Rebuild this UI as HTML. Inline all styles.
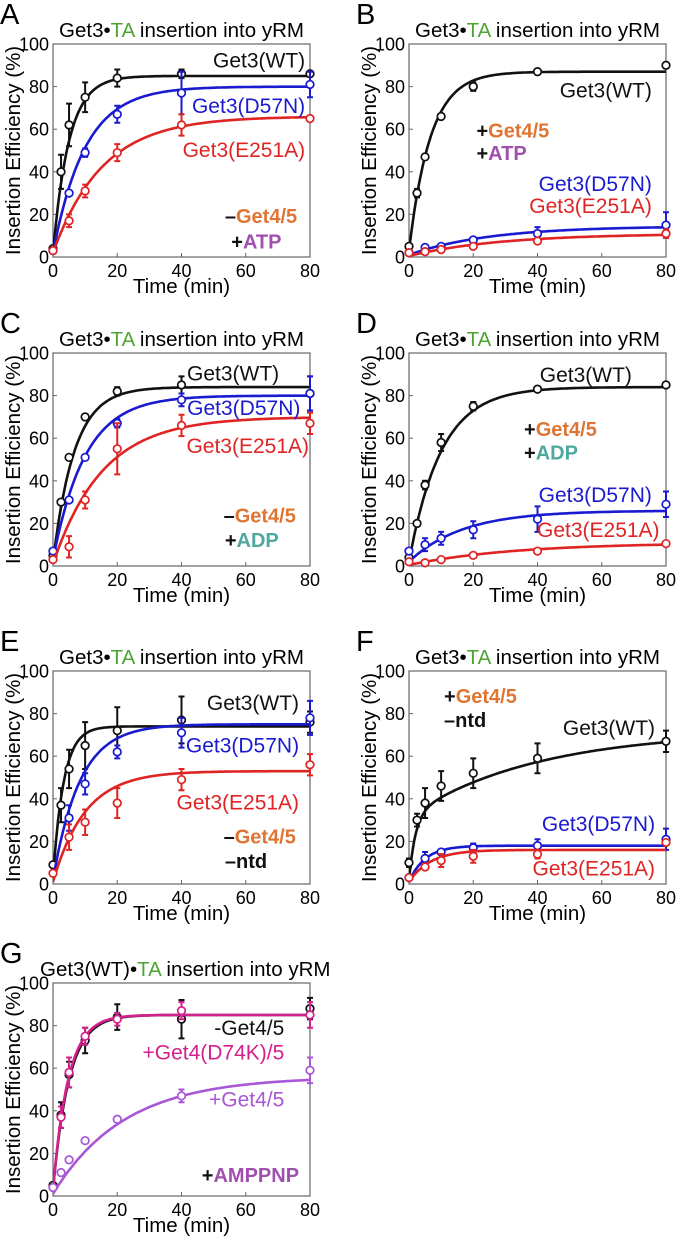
<!DOCTYPE html>
<html><head><meta charset="utf-8">
<style>
html,body{margin:0;padding:0;background:#fff;}
svg{display:block;font-family:"Liberation Sans",Arial,sans-serif;}
</style></head>
<body>
<svg id="fig" width="677" height="1242" viewBox="0 0 677 1242" xmlns="http://www.w3.org/2000/svg"></svg>
<script>
// ---- data ----
const times=[0,2.5,5,10,20,40,80];
const xTicks=[0,20,40,60,80];
const yTicks=[0,20,40,60,80,100];
// Panel A (-Get4/5 +ATP)
const aWT=[4,40,62,75,84,86,86], aWTerr=[0,8,10,7,4,2,1], aWTfit=[85,0.2,2];
const aD57N=[3,null,30,49,67,77,81], aD57Nerr=[0,0,1,2,4,10,6], aD57Nfit=[80,0.1,2];
const aE251A=[3,null,17,31,49,62,65], aE251Aerr=[0,0,3,3,4,5,1], aE251Afit=[66,0.065,2];
// Panel B (+Get4/5 +ATP)
const bWT=[5,30,47,66,80,87,90], bWTerr=[1,2,1,1,2,1,1], bWTfit=[87,0.15,3];
const bD57N=[2,null,4.5,5,8,11,15], bD57Nerr=[0,0,1,1,1,3,6], bD57Nfit=[14.5,0.04,1];
const bE251A=[2,null,2.5,3.5,5,7.5,11], bE251Aerr=[0,0,1,1,1,1,2], bE251Afit=[11,0.035,0.5];
// Panel C (-Get4/5 +ADP)
const cWT=[5,30,51,70,82,85,81], cWTerr=[1,1,1,1,2,4,8], cWTfit=[84,0.15,2];
const cD57N=[7,null,31,51,67,78,81], cD57Nerr=[1,0,1,1,2,3,8], cD57Nfit=[80,0.1,3];
const cE251A=[3,null,9,31,55,66,67], cE251Aerr=[1,0,5,4,12,5,5], cE251Afit=[70,0.065,1];
// Panel D (+Get4/5 +ADP)
const dWT=[4,20,38,58,75,83,85], dWTerr=[1,1,2,4,2,1,1], dWTfit=[84,0.1,2];
const dD57N=[7,null,10,13,17,22,29], dD57Nerr=[1,0,3,3,4,6,6], dD57Nfit=[26,0.06,2];
const dE251A=[2,null,1.5,3,5,7,10.5], dE251Aerr=[0,0,0.5,0.5,0.5,0.5,1], dE251Afit=[11,0.03,0.5];
// Panel E (-Get4/5 -ntd)
const eWT=[9,37,54,65,72,77,76], eWTerr=[1,8,9,11,11,11,5], eWTfit=[74,0.3,3];
const eD57N=[null,null,31,47,62,71,78], eD57Nerr=[0,0,6,5,3,7,8], eD57Nfit=[75,0.12,2];
const eE251A=[5,null,22,29,38,49,56], eE251Aerr=[1,0,6,6,7,5,5], eE251Afit=[53,0.1,1];
// Panel F (+Get4/5 -ntd)
const fWT=[10,30,38,46,52,59,67], fWTerr=[2,3,7,7,7,7,5], fWTfit=[32,0.5,2,40,0.025];
const fD57N=[3,null,12,15,17,18,21], fD57Nerr=[1,0,3,1,2,3,5], fD57Nfit=[18,0.2,1];
const fE251A=[3,null,8,11,13,14,19.5], fE251Aerr=[1,0,1,3,3,2,1], fE251Afit=[16,0.15,1];
// Panel G (Get3(WT), +AMPPNP)
const gNo=[5,38,57,73,84,83,88], gNoerr=[1,6,6,6,6,9,5], gNofit=[85,0.2,3];
const gD74K=[4,37,58,75,83,87,85], gD74Kerr=[1,5,7,4,3,4,6], gD74Kfit=[85,0.21,3];
const gG45=[4,11,17,26,36,47,59], gG45err=[0,1,1,1,1,3,6], gG45fit=[56,0.045,1];

const BLACK='#111', BLUE='#1a1ad0', RED='#e02424', ORANGE='#e07533', PURPLE='#a04fae', TEAL='#4fa8a0', GREEN='#4ea433', MAG='#d4208c', VIO='#a857d6';
const NS='http://www.w3.org/2000/svg';
const svg=document.getElementById('fig');
function mk(tag,attrs,parent){const e=document.createElementNS(NS,tag);for(const k in attrs)e.setAttribute(k,attrs[k]);(parent||svg).appendChild(e);return e;}

function panel(p){
  const g=mk('g',{});
  
  
  const x0=p.ox, x1=p.ox+257, yTop=p.oy, yBot=p.oy+213;
  const sx=t=>x0+t/80*(x1-x0);
  const sy=v=>yBot-v/100*(yBot-yTop);
  const L=mk('text',{x:p.ox-53,y:p.oy-20,'font-size':29},g);L.textContent=p.id;
  
  
  const T=mk('text',{x:p.tx||(x0+(x1-x0)/2),y:p.oy-7,'font-size':20.5,'text-anchor':p.tx?'start':'middle'},g);
  
  
  const s1=mk('tspan',{},T);s1.textContent=p.pre+'\u2022';
  const s2=mk('tspan',{fill:GREEN},T);s2.textContent='TA';
  const s3=mk('tspan',{},T);s3.textContent=' insertion into yRM';
  const fr=mk('rect',{x:x0,y:yTop,width:x1-x0,height:yBot-yTop,fill:'none',stroke:'#666','stroke-width':1.2},g);
  
  
  yTicks.forEach(v=>{
    mk('line',{x1:x0,x2:x0+4,y1:sy(v),y2:sy(v),stroke:'#666'},g);
    const t=mk('text',{x:x0-4,y:sy(v)+6.5,'font-size':18,'text-anchor':'end'},g);t.textContent=v;
    
    
  });
  xTicks.forEach(v=>{
    mk('line',{x1:sx(v),x2:sx(v),y1:yBot,y2:yBot-4,stroke:'#666'},g);
    const t=mk('text',{x:sx(v),y:yBot+20,'font-size':18,'text-anchor':'middle'},g);t.textContent=v;
    
    
  });
  const xt=mk('text',{x:(x0+x1)/2,y:yBot+36,'font-size':20.5,'text-anchor':'middle'},g);xt.textContent='Time (min)';
  
  
  const cy=(yTop+yBot)/2, cx=p.ox-33;
  const yt=mk('text',{x:cx,y:cy,'font-size':20.5,'text-anchor':'middle',transform:'rotate(-90 '+cx+' '+cy+')'},g);yt.textContent='Insertion Efficiency (%)';
  
  
  const cid='clip'+p.id;
  const cp=mk('clipPath',{id:cid},g);mk('rect',{x:x0,y:yTop,width:x1-x0,height:yBot-yTop},cp);
  p.series.forEach(s=>{
    const f=s.fit;
    const fn=t=>f[2]+(f[0]-f[2])*(1-Math.exp(-f[1]*t))+(f.length>3?f[3]*(1-Math.exp(-f[4]*t)):0);
    let d='';
    for(let i=0;i<=200;i++){const t=i*80/200;d+=(i?'L':'M')+sx(t).toFixed(1)+' '+sy(fn(t)).toFixed(1);}
    const c=mk('path',{d:d,fill:'none',stroke:s.color,'stroke-width':2.6,'clip-path':'url(#'+cid+')'},g);
    
    
    s.vals.forEach((v,i)=>{
      if(v==null)return;
      const e=s.err[i], X=sx(times[i]);
      if(e>0.8){
        const eb=mk('path',{d:`M${X} ${sy(v-e)}L${X} ${sy(v+e)}M${X-3} ${sy(v-e)}L${X+3} ${sy(v-e)}M${X-3} ${sy(v+e)}L${X+3} ${sy(v+e)}`,stroke:s.color,'stroke-width':2,fill:'none'},g);
        
        
      }
      const m=mk('circle',{cx:X,cy:sy(v),r:3.8,fill:'#fff',stroke:s.color,'stroke-width':1.7},g);
      
      
    });
  });
  p.labels.forEach(l=>{
    const t=mk('text',{x:sx(l.x),y:sy(l.y),'font-size':l.b?20:21,'text-anchor':l.a||'end',fill:l.c||BLACK,'font-weight':l.b?'bold':'normal'},g);
    
    
    if(l.parts){l.parts.forEach(pt=>{const s=mk('tspan',{fill:pt[1]},t);s.textContent=pt[0];});}
    else t.textContent=l.t;
  });
}
const lbl=(x,y,t,c,n,a)=>({x,y,t,c,n,a});
const cond=(x,y,sign,word,color,n,a)=>({x,y,b:true,parts:[[sign,BLACK],[word,color]],n,a});

panel({id:'A',ox:53,oy:44,pre:'Get3',series:[
 {name:'wt',color:BLACK,vals:aWT,err:aWTerr,fit:aWTfit},
 {name:'d57n',color:BLUE,vals:aD57N,err:aD57Nerr,fit:aD57Nfit},
 {name:'e251a',color:RED,vals:aE251A,err:aE251Aerr,fit:aE251Afit}],
 labels:[lbl(78.5,89,'Get3(WT)',BLACK,'wt-label'),lbl(78.5,67.5,'Get3(D57N)',BLUE,'d57n-label'),lbl(78.5,47,'Get3(E251A)',RED,'e251a-label'),
 cond(76,16,'\u2013','Get4/5',ORANGE,'get45-condition'),cond(55.5,4,'+','ATP',PURPLE,'nucleotide-condition','start')]});
panel({id:'B',ox:409,oy:44,pre:'Get3',series:[
 {name:'wt',color:BLACK,vals:bWT,err:bWTerr,fit:bWTfit},
 {name:'d57n',color:BLUE,vals:bD57N,err:bD57Nerr,fit:bD57Nfit},
 {name:'e251a',color:RED,vals:bE251A,err:bE251Aerr,fit:bE251Afit}],
 labels:[lbl(75.6,75,'Get3(WT)',BLACK,'wt-label'),lbl(75.6,31,'Get3(D57N)',BLUE,'d57n-label'),lbl(75.6,20.6,'Get3(E251A)',RED,'e251a-label'),
 cond(21,56,'+','Get4/5',ORANGE,'get45-condition','start'),cond(21,45.5,'+','ATP',PURPLE,'nucleotide-condition','start')]});
panel({id:'C',ox:53,oy:353,pre:'Get3',series:[
 {name:'wt',color:BLACK,vals:cWT,err:cWTerr,fit:cWTfit},
 {name:'d57n',color:BLUE,vals:cD57N,err:cD57Nerr,fit:cD57Nfit},
 {name:'e251a',color:RED,vals:cE251A,err:cE251Aerr,fit:cE251Afit}],
 labels:[lbl(70.4,87,'Get3(WT)',BLACK,'wt-label'),lbl(77,71,'Get3(D57N)',BLUE,'d57n-label'),lbl(79.7,53,'Get3(E251A)',RED,'e251a-label'),
 cond(75.6,20.5,'\u2013','Get4/5',ORANGE,'get45-condition'),cond(53.5,9,'+','ADP',TEAL,'nucleotide-condition','start')]});
panel({id:'D',ox:409,oy:353,pre:'Get3',series:[
 {name:'wt',color:BLACK,vals:dWT,err:dWTerr,fit:dWTfit},
 {name:'d57n',color:BLUE,vals:dD57N,err:dD57Nerr,fit:dD57Nfit},
 {name:'e251a',color:RED,vals:dE251A,err:dE251Aerr,fit:dE251Afit}],
 labels:[lbl(69.4,86.5,'Get3(WT)',BLACK,'wt-label'),lbl(75.6,30,'Get3(D57N)',BLUE,'d57n-label'),lbl(78,13.5,'Get3(E251A)',RED,'e251a-label'),
 cond(35.8,61,'+','Get4/5',ORANGE,'get45-condition','start'),cond(35.8,50,'+','ADP',TEAL,'nucleotide-condition','start')]});
panel({id:'E',ox:53,oy:671,pre:'Get3',series:[
 {name:'wt',color:BLACK,vals:eWT,err:eWTerr,fit:eWTfit},
 {name:'d57n',color:BLUE,vals:eD57N,err:eD57Nerr,fit:eD57Nfit},
 {name:'e251a',color:RED,vals:eE251A,err:eE251Aerr,fit:eE251Afit}],
 labels:[lbl(76.6,81.6,'Get3(WT)',BLACK,'wt-label'),lbl(76.6,61.8,'Get3(D57N)',BLUE,'d57n-label'),lbl(76.6,35,'Get3(E251A)',RED,'e251a-label'),
 cond(75.6,19,'\u2013','Get4/5',ORANGE,'get45-condition'),cond(53.5,7.5,'\u2013','ntd',BLACK,'ntd-condition','start')]});
panel({id:'F',ox:409,oy:671,pre:'Get3',series:[
 {name:'wt',color:BLACK,vals:fWT,err:fWTerr,fit:fWTfit},
 {name:'d57n',color:BLUE,vals:fD57N,err:fD57Nerr,fit:fD57Nfit},
 {name:'e251a',color:RED,vals:fE251A,err:fE251Aerr,fit:fE251Afit}],
 labels:[lbl(76.6,70,'Get3(WT)',BLACK,'wt-label'),lbl(76.6,25,'Get3(D57N)',BLUE,'d57n-label'),lbl(76.6,4,'Get3(E251A)',RED,'e251a-label'),
 cond(10.9,85,'+','Get4/5',ORANGE,'get45-condition','start'),cond(10.9,73.6,'\u2013','ntd',BLACK,'ntd-condition','start')]});
panel({id:'G',ox:53,oy:983,pre:'Get3(WT)',tx:40,series:[
 {name:'no-get45',color:BLACK,vals:gNo,err:gNoerr,fit:gNofit},
 {name:'get4-d74k',color:MAG,vals:gD74K,err:gD74Kerr,fit:gD74Kfit},
 {name:'get45',color:VIO,vals:gG45,err:gG45err,fit:gG45fit}],
 labels:[lbl(72,75.7,'-Get4/5',BLACK,'no-get45-label'),lbl(72,64,'+Get4(D74K)/5',MAG,'get4-d74k-label'),lbl(72,42,'+Get4/5',VIO,'get45-label'),
 cond(76.6,6.5,'+','AMPPNP',PURPLE,'nucleotide-condition')]});
</script>
</body></html>
